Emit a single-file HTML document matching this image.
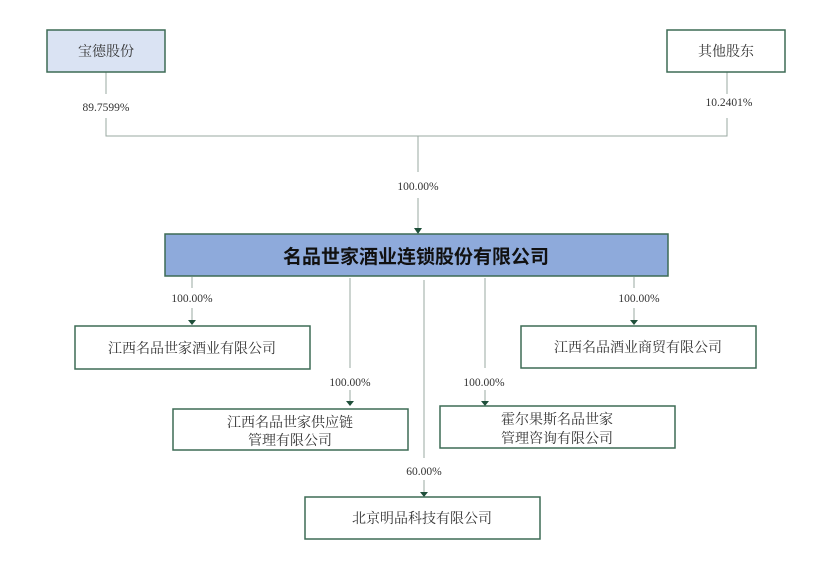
<!DOCTYPE html>
<html><head><meta charset="utf-8"><style>
body{margin:0;background:#fff;width:832px;height:564px;overflow:hidden}
svg text{font-family:"Liberation Serif","Noto Serif CJK SC",serif}
</style></head><body>
<svg width="832" height="564" xmlns="http://www.w3.org/2000/svg">
<g fill="none" stroke="#9aa8a2" stroke-width="1">
<path d="M106 72V94M106 118V136H727V118M727 72V94"/>
<path d="M418 136V172M418 198V228"/>
<path d="M192 277V288M192 308V320"/>
<path d="M350 278V368M350 390V401"/>
<path d="M424 280V458M424 480V492"/>
<path d="M485 278V368M485 390V401"/>
<path d="M634 277V288M634 308V320"/>
</g>
<g fill="#1f4f3a">
<path d="M414 228h8l-4 6z"/>
<path d="M188 320h8l-4 5z"/>
<path d="M346 401h8l-4 5z"/>
<path d="M420 492h8l-4 5z"/>
<path d="M481 401h8l-4 5z"/>
<path d="M630 320h8l-4 5z"/>
</g>
<g stroke="#3d6b55" stroke-width="1.5">
<rect x="47" y="30" width="118" height="42" fill="#dae3f3"/>
<rect x="667" y="30" width="118" height="42" fill="#fff"/>
<rect x="165" y="234" width="503" height="42" fill="#8eaadb"/>
<rect x="75" y="326" width="235" height="43" fill="#fff"/>
<rect x="521" y="326" width="235" height="42" fill="#fff"/>
<rect x="173" y="409" width="235" height="41" fill="#fff"/>
<rect x="440" y="406" width="235" height="42" fill="#fff"/>
<rect x="305" y="497" width="235" height="42" fill="#fff"/>
</g>
<g font-size="14" fill="#333" text-anchor="middle">
<text x="106" y="56">宝德股份</text>
<text x="726" y="56">其他股东</text>
<text x="192" y="353">江西名品世家酒业有限公司</text>
<text x="638" y="352">江西名品酒业商贸有限公司</text>
<text x="290" y="427">江西名品世家供应链</text>
<text x="290" y="445">管理有限公司</text>
<text x="557" y="424">霍尔果斯名品世家</text>
<text x="557" y="443">管理咨询有限公司</text>
<text x="422" y="523">北京明品科技有限公司</text>
<text x="416" y="263" font-size="19" font-weight="bold" fill="#111" style="font-family:'Noto Sans CJK SC',sans-serif">名品世家酒业连锁股份有限公司</text>
</g>
<g font-size="11.5" fill="#333" text-anchor="middle">
<text x="106" y="111">89.7599%</text>
<text x="729" y="106">10.2401%</text>
<text x="418" y="190">100.00%</text>
<text x="192" y="302">100.00%</text>
<text x="350" y="386">100.00%</text>
<text x="484" y="386">100.00%</text>
<text x="424" y="475">60.00%</text>
<text x="639" y="302">100.00%</text>
</g>
</svg>
</body></html>
